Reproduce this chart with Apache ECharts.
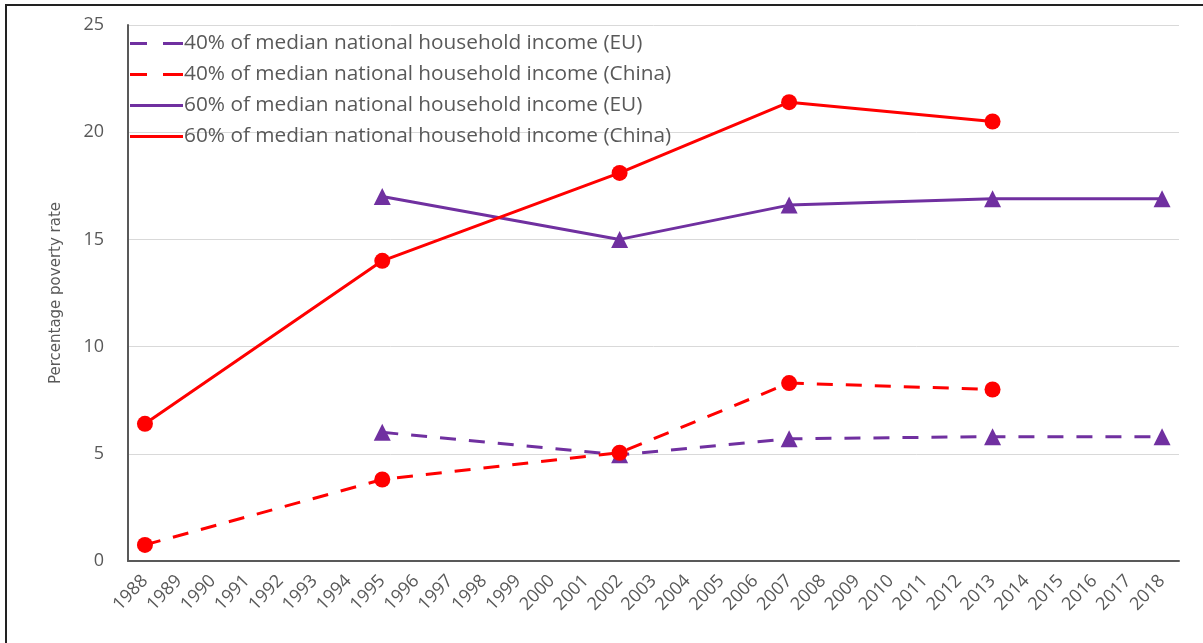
<!DOCTYPE html>
<html>
<head>
<meta charset="utf-8">
<script src="https://cdn.jsdelivr.net/npm/echarts@6/dist/echarts.min.js"></script>
<style>
html,body{margin:0;padding:0;background:#fff;}
#c{width:1203px;height:643px;}
</style>
</head>
<body>
<div id="c"></div>
<script>
var years = ['1988','1989','1990','1991','1992','1993','1994','1995','1996','1997','1998','1999','2000','2001','2002','2003','2004','2005','2006','2007','2008','2009','2010','2011','2012','2013','2014','2015','2016','2017','2018'];
var yTicks = [0, 5, 10, 15, 20, 25];
// values indexed by year (null = no observation)
var eu40 = [null,null,null,null,null,null,null,6.0,null,null,null,null,null,null,4.95,null,null,null,null,5.7,null,null,null,null,null,5.8,null,null,null,null,5.8];
var china40 = [0.75,null,null,null,null,null,null,3.8,null,null,null,null,null,null,5.05,null,null,null,null,8.3,null,null,null,null,null,8.0,null,null,null,null,null];
var eu60 = [null,null,null,null,null,null,null,17.0,null,null,null,null,null,null,15.0,null,null,null,null,16.6,null,null,null,null,null,16.9,null,null,null,null,16.9];
var china60 = [6.4,null,null,null,null,null,null,14.0,null,null,null,null,null,null,18.1,null,null,null,null,21.4,null,null,null,null,null,20.5,null,null,null,null,null];
var names = ['40% of median national household income (EU)','40% of median national household income (China)','60% of median national household income (EU)','60% of median national household income (China)'];

var RED = '#ff0000', PURPLE = '#7030a0';
var dashIcon = 'path://M0,0h17v3h-17z M33,0h20v3h-20z';
var solidIcon = 'path://M0,0h53v3h-53z';

function mk(name, data, color, dashed, sym) {
  return {
    name: name, type: 'line', data: data, connectNulls: true,
    symbol: sym, symbolSize: sym === 'circle' ? 16 : 17,
    lineStyle: {color: color, width: 3, type: dashed ? [16, 13] : 'solid'},
    itemStyle: {color: color},
    emphasis: {disabled: true}, animation: false
  };
}

var chart = echarts.init(document.getElementById('c'));
chart.setOption({
  animation: false,
  backgroundColor: '#fff',
  grid: {left: 128, right: 24, top: 25, bottom: 82},
  graphic: [{type: 'rect', shape: {x: 6, y: 5, width: 1210, height: 660}, style: {fill: 'none', stroke: '#222', lineWidth: 2}, z: 100}],
  legend: {
    orient: 'vertical', left: 125, top: 28,
    itemWidth: 53, itemHeight: 3, itemGap: 10,
    textStyle: {color: '#595959', fontSize: 20.8, fontFamily: 'Open Sans', padding: [0,0,0,-4]},
    data: [
      {name: names[0], icon: dashIcon},
      {name: names[1], icon: dashIcon},
      {name: names[2], icon: solidIcon},
      {name: names[3], icon: solidIcon}
    ]
  },
  xAxis: {
    type: 'category', data: years, boundaryGap: true,
    axisLine: {lineStyle: {color: '#595959', width: 2}},
    axisTick: {show: false},
    axisLabel: {rotate: 46, interval: 0, color: '#595959', fontSize: 18, fontFamily: 'Open Sans', margin: 17}
  },
  yAxis: {
    type: 'value', min: yTicks[0], max: yTicks[yTicks.length-1], interval: 5,
    name: 'Percentage poverty rate', nameLocation: 'middle', nameGap: 64,
    nameTextStyle: {color: '#595959', fontSize: 15, fontFamily: 'DejaVu Sans'},
    axisLine: {show: true, lineStyle: {color: '#595959', width: 2}},
    axisTick: {show: false},
    axisLabel: {color: '#595959', fontSize: 18, fontFamily: 'Open Sans', margin: 24},
    splitLine: {lineStyle: {color: '#d9d9d9', width: 1}}
  },
  series: [
    mk(names[0], eu40, PURPLE, true, 'triangle'),
    mk(names[1], china40, RED, true, 'circle'),
    mk(names[2], eu60, PURPLE, false, 'triangle'),
    mk(names[3], china60, RED, false, 'circle')
  ]
});
</script>
</body>
</html>
